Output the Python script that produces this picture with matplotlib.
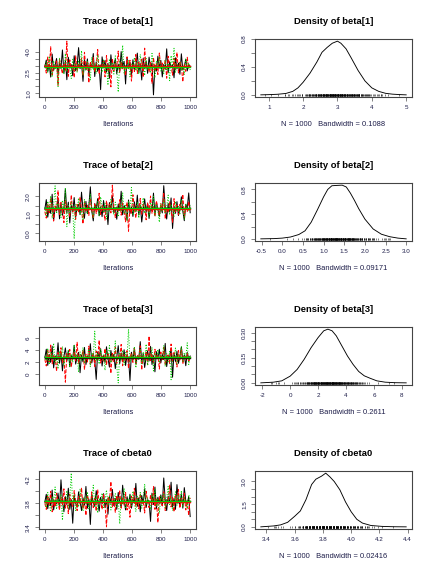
import matplotlib
matplotlib.use("Agg")
import matplotlib.pyplot as plt
import numpy as np

plt.rcParams['font.family'] = ['Liberation Sans', 'DejaVu Sans']

# ---------------- trace values (thinned) ----------------
beta1_c1 = [2.93, 3.41, 2.58, 3.12, 2.17, 3.84, 2.66, 3.04, 3.52, 2.39, 3.23, 2.81, 4.14, 2.47, 3.36, 1.98, 3.61, 2.89, 3.08, 2.27,
            3.72, 2.63, 2.97, 4.31, 2.78, 3.19, 1.86, 3.44, 2.71, 3.49, 2.36, 3.13, 2.92, 3.88, 2.21, 3.27, 2.59, 3.02, 1.26, 3.64,
            2.84, 3.38, 2.53, 3.17, 2.08, 3.79, 2.74, 3.06, 3.47, 2.42, 3.11, 2.56, 4.02, 2.94, 3.31, 1.67, 3.58, 2.83, 3.24, 2.29,
            3.43, 2.68, 2.99, 3.91, 2.51, 3.14, 1.96, 3.54, 2.79, 3.33, 2.44, 3.62, 2.87, 3.21, 0.88, 3.01, 2.61, 3.69, 2.82, 3.39,
            2.18, 3.09, 2.73, 4.22, 2.48, 3.28, 2.91, 3.03, 2.12, 3.57, 2.77, 3.18, 2.37, 3.86, 2.69, 2.96, 3.46, 2.62, 3.07, 2.88]
beta1_c2 = [3.07, 2.46, 3.63, 2.79, 4.38, 2.32, 2.98, 2.72, 3.34, 1.57, 3.48, 2.86, 2.41, 3.16, 2.67, 4.78, 2.23, 3.42, 2.81, 3.03,
            2.14, 3.71, 2.58, 3.12, 2.91, 3.53, 2.27, 3.97, 2.69, 3.22, 1.76, 3.29, 2.84, 3.59, 2.52, 3.01, 4.17, 2.38, 3.09, 2.93,
            3.37, 2.19, 3.74, 2.66, 3.04, 1.46, 3.51, 2.61, 3.18, 2.88, 4.06, 2.49, 3.32, 2.77, 2.99, 2.26, 3.64, 2.73, 3.39, 1.88,
            3.13, 2.57, 3.81, 2.43, 3.24, 2.92, 3.47, 2.16, 4.27, 2.83, 3.02, 2.54, 3.28, 1.72, 3.58, 2.68, 3.14, 2.36, 3.92, 2.87,
            3.19, 2.62, 3.43, 2.09, 3.68, 2.78, 2.97, 2.31, 3.54, 2.71, 3.96, 2.47, 3.33, 2.94, 1.83, 3.08, 2.59, 3.61, 2.82, 3.01]
beta1_c3 = [2.84, 3.27, 2.49, 3.68, 2.91, 2.18, 3.36, 2.74, 3.08, 1.48, 3.57, 2.79, 3.03, 2.37, 3.87, 2.63, 3.19, 2.88, 2.07, 3.46,
            2.72, 3.11, 2.53, 3.38, 2.81, 4.09, 2.28, 2.98, 2.61, 3.31, 2.93, 1.97, 3.62, 2.68, 3.17, 2.42, 3.78, 2.83, 3.04, 2.51,
            3.41, 2.57, 3.13, 1.58, 3.49, 2.86, 3.22, 2.39, 3.71, 2.67, 1.08, 3.29, 2.78, 4.48, 2.46, 2.99, 2.73, 3.37, 2.19, 3.12,
            2.92, 3.59, 2.62, 3.23, 2.38, 3.82, 2.76, 3.01, 2.29, 3.52, 2.69, 3.09, 2.48, 3.89, 2.87, 2.11, 3.34, 2.82, 3.63, 2.58,
            2.96, 2.43, 3.42, 2.71, 3.18, 1.91, 3.73, 2.89, 4.26, 2.52, 3.07, 2.79, 3.28, 2.64, 3.02, 2.36, 3.48, 2.94, 3.21, 2.68]

beta2_c1 = [1.31, 1.83, 0.88, 1.47, 1.09, 2.12, 0.71, 1.38, 1.22, 1.91, 0.79, 1.63, 0.98, 1.34, 2.41, 1.12, 1.69, 0.57, 1.52, 1.18,
            1.94, 0.87, 1.42, 1.58, 1.03, 2.23, 1.27, 0.82, 1.73, 1.07, 1.49, 2.52, 1.21, 0.68, 1.61, 1.33, 1.88, 0.96, 1.44, 0.91,
            1.78, 1.16, 1.54, 0.48, 1.67, 1.29, 2.03, 1.13, 1.39, 0.77, 1.59, 1.24, 2.28, 1.01, 1.51, 1.32, 0.73, 1.81, 1.08, 1.43,
            0.92, 1.71, 1.19, 2.07, 0.99, 1.53, 0.62, 1.28, 1.87, 1.14, 1.64, 0.81, 1.37, 1.23, 2.18, 1.04, 1.68, 1.31, 0.93, 1.48,
            1.11, 2.58, 1.41, 0.78, 1.62, 1.17, 1.92, 0.27, 1.46, 1.09, 1.72, 0.97, 1.33, 1.98, 1.21, 0.69, 1.57, 1.36, 2.19, 1.12]
beta2_c2 = [1.18, 0.83, 1.61, 1.07, 1.93, 1.38, 0.67, 1.49, 1.27, 2.31, 1.02, 1.68, 1.23, 0.59, 1.79, 1.34, 1.47, 0.89, 2.08, 1.16,
            1.41, 0.76, 1.57, 1.13, 1.97, 1.29, 0.52, 1.72, 1.19, 1.53, 0.98, 1.86, 1.32, 0.81, 1.63, 1.08, 1.39, 2.17, 1.03, 1.51,
            1.21, 0.72, 1.77, 1.28, 1.59, 1.11, 2.61, 1.43, 0.86, 1.48, 1.17, 1.82, 0.99, 1.64, 1.26, 0.63, 1.69, 0.12, 1.37, 1.06,
            2.09, 1.31, 0.84, 1.52, 1.22, 1.89, 1.04, 1.58, 1.42, 0.74, 1.67, 1.18, 2.02, 1.09, 1.46, 0.91, 1.76, 1.33, 0.97, 1.62,
            1.24, 2.21, 0.79, 1.41, 1.13, 1.71, 1.29, 0.58, 1.88, 1.16, 1.54, 1.01, 1.57, 1.34, 2.11, 0.88, 1.44, 1.19, 1.73, 1.27]
beta2_c3 = [1.42, 0.97, 1.74, 1.18, 2.03, 0.82, 1.51, 2.57, 1.08, 1.63, 1.27, 0.86, 1.79, 1.21, 2.46, 0.37, 1.53, 1.12, 1.68, 1.32,
            -0.29, 1.58, 1.19, 1.91, 1.02, 1.39, 0.71, 1.83, 1.28, 1.06, 1.61, 2.12, 1.23, 0.88, 1.47, 1.34, 1.72, 0.96, 1.98, 1.41,
            1.13, 1.64, 0.78, 1.49, 1.17, 1.87, 1.31, 1.02, 1.69, 1.37, 0.91, 1.59, 1.22, 2.19, 1.07, 1.52, 0.68, 1.76, 1.29, 2.48,
            0.99, 1.43, 1.16, 1.71, 0.83, 1.56, 1.33, 1.93, 1.09, 1.48, 1.38, 0.87, 1.67, 1.24, 2.01, 0.98, 1.54, 1.26, 0.61, 1.62,
            1.19, 1.81, 1.11, 1.44, 2.07, 1.01, 1.58, 1.32, 0.93, 1.73, 1.18, 1.49, 1.06, 1.84, 1.29, 0.77, 1.61, 1.39, 1.21, 1.52]

beta3_c1 = [2.71, 4.13, 1.48, 3.27, 1.96, 4.62, 1.07, 3.04, 2.38, 5.18, 1.83, 3.47, 0.58, 2.91, 4.34, 2.17, 3.82, 1.26, 3.09, 2.53,
            4.77, 1.69, 2.84, 3.61, 0.27, 3.18, 2.06, 4.42, 1.62, 2.97, 2.58, 5.03, 1.87, 3.41, 2.29, -0.83, 3.68, 2.79, 4.21, 1.37,
            3.12, 1.98, 4.53, 2.63, 1.19, 3.92, 2.36, 3.28, 0.94, 2.87, 4.71, 1.77, 3.52, 2.23, 4.04, 1.46, 3.21, 2.69, -1.02, 3.63,
            2.31, 4.38, 1.72, 2.98, 2.47, 5.37, 2.02, 3.39, 1.13, 2.82, 3.87, 2.19, 4.58, 1.61, 3.07, 0.42, 3.73, 2.57, 4.12, 1.88,
            3.31, 2.43, 5.08, 1.28, 3.02, 2.72, 4.27, -0.47, 3.49, 2.11, 3.79, 1.81, 2.93, 4.49, 2.28, 3.17, 1.42, 3.59, 2.62, 3.01]
beta3_c2 = [2.48, 1.38, 3.91, 2.08, 4.81, 1.73, 3.16, 2.83, 0.51, 3.57, 2.32, 4.37, 1.92, 2.99, -1.28, 3.43, 2.61, 4.08, 1.17, 2.88,
            3.72, 2.21, 5.27, 1.79, 3.11, 2.52, 3.98, 0.77, 3.29, 2.03, 4.63, 1.58, 2.68, 3.51, 1.31, 3.83, 2.39, 5.61, 1.86, 3.03,
            2.18, 4.23, 1.52, 3.38, 2.77, 0.16, 3.62, 2.09, 4.47, 1.82, 3.13, 2.58, 4.91, 1.41, 3.26, 2.34, 3.89, 0.98, 2.81, 3.48,
            1.97, 4.29, 1.68, 3.19, 2.51, 4.68, 0.72, 3.01, 2.42, 3.78, 1.57, 6.28, 2.24, 3.37, 1.89, 4.11, 2.59, 3.08, 0.87, 3.66,
            2.27, 4.41, 1.53, 2.92, 3.33, 1.78, 4.97, 2.14, 3.58, 2.67, 1.22, 3.93, 2.37, 4.18, 1.71, 2.96, 2.49, 3.46, 2.01, 2.78]
beta3_c3 = [2.97, 2.23, 4.28, 1.63, 3.52, 2.66, 5.12, 1.87, 3.23, 0.91, 3.81, 2.37, 4.57, 1.49, 3.08, 2.82, 3.96, 1.18, 3.36, 1.99,
            4.86, 2.57, 3.32, 0.38, 3.69, 2.26, 4.43, 1.81, 3.02, 2.47, 4.17, 1.27, 3.58, 2.89, 7.08, 2.12, 3.47, 1.68, 4.09, 2.63,
            3.18, 0.67, 3.88, 2.41, 4.73, 1.93, 3.06, 2.78, 5.48, 1.36, -1.39, 3.42, 2.28, 3.97, 1.59, 3.61, 2.73, 7.42, 1.98, 3.27,
            2.53, 4.52, 1.09, 2.99, 2.64, 4.16, 1.76, 3.71, 2.18, 4.96, 1.47, 3.22, 2.87, 4.38, 0.57, 3.53, 2.39, 4.07, 1.91, 3.12,
            2.68, 4.78, 1.32, 3.39, 2.07, 3.84, -0.88, 3.03, 2.61, 4.32, 1.73, 3.28, 2.44, 4.61, 2.02, 3.57, 2.76, 5.17, 1.62, 3.09]

cbeta0_c1 = [3.82, 3.95, 3.71, 3.88, 3.76, 4.02, 3.69, 3.85, 3.79, 3.97, 3.73, 4.19, 3.84, 3.66, 3.91, 3.78, 4.05, 3.70, 3.86, 3.47,
             3.93, 3.80, 3.74, 3.99, 3.83, 3.68, 3.89, 3.77, 4.08, 3.72, 3.87, 3.45, 3.94, 3.81, 3.75, 4.01, 3.84, 3.67, 3.90, 3.79,
             3.96, 3.73, 3.86, 3.62, 3.92, 3.80, 4.03, 3.76, 3.88, 3.70, 3.98, 3.82, 3.74, 4.10, 3.85, 3.69, 3.91, 3.78, 3.95, 3.72,
             3.87, 3.81, 4.13, 3.75, 3.89, 3.66, 3.93, 3.79, 4.04, 3.73, 3.86, 3.83, 3.50, 3.97, 3.78, 4.07, 3.71, 3.90, 3.80, 3.94,
             3.76, 4.22, 3.85, 3.68, 3.92, 3.81, 4.15, 3.74, 3.88, 3.70, 4.11, 3.83, 3.77, 3.96, 3.72, 4.06, 3.84, 3.79, 3.91, 3.58]
cbeta0_c2 = [3.80, 3.70, 3.93, 3.77, 4.00, 3.66, 3.86, 3.74, 3.97, 3.82, 3.69, 3.90, 3.78, 4.04, 3.72, 3.87, 3.63, 3.95, 3.81, 3.75,
             4.01, 3.84, 3.68, 3.92, 3.79, 4.06, 3.71, 3.88, 3.60, 3.94, 3.83, 3.76, 3.99, 3.73, 3.89, 3.67, 4.03, 3.80, 3.85, 3.70,
             3.96, 3.78, 3.41, 3.91, 3.82, 4.16, 3.74, 3.87, 3.65, 3.93, 3.80, 4.02, 3.72, 3.89, 3.77, 3.98, 3.69, 3.84, 3.57, 3.92,
             3.81, 4.05, 3.75, 3.88, 3.71, 3.96, 3.79, 3.85, 3.64, 4.00, 3.83, 3.73, 3.94, 3.78, 4.08, 3.70, 3.87, 3.48, 3.91, 3.82,
             3.76, 3.99, 3.68, 3.86, 3.80, 4.11, 3.74, 3.90, 3.66, 3.95, 3.81, 4.03, 3.72, 3.88, 3.77, 3.97, 3.69, 3.84, 3.60, 3.89]
cbeta0_c3 = [3.84, 3.73, 3.98, 3.79, 3.66, 3.92, 3.81, 4.07, 3.70, 3.88, 3.76, 3.95, 3.52, 3.86, 3.80, 4.01, 3.72, 3.90, 4.30, 3.78,
             3.94, 3.68, 3.85, 3.74, 4.04, 3.82, 3.67, 3.91, 3.79, 3.99, 3.71, 3.87, 3.83, 4.10, 3.75, 3.93, 3.64, 3.89, 3.80, 3.97,
             3.73, 3.86, 4.02, 3.77, 3.92, 3.69, 3.84, 3.81, 3.96, 3.74, 3.88, 3.46, 3.90, 3.78, 4.05, 3.71, 3.87, 3.83, 3.94, 3.76,
             4.00, 3.80, 3.66, 3.91, 3.79, 3.98, 3.72, 3.86, 4.12, 3.77, 3.89, 3.82, 3.70, 3.95, 3.84, 4.03, 3.75, 3.88, 3.63, 3.92,
             3.80, 3.97, 3.73, 3.87, 4.08, 3.78, 3.90, 3.68, 3.85, 3.99, 3.76, 3.93, 3.81, 4.01, 3.74, 3.89, 3.83, 3.71, 3.94, 3.86]

# ---------------- density curves ----------------
dens1_x = [0.77, 1.0, 1.25, 1.5, 1.7, 1.85, 2.0, 2.2, 2.4, 2.55, 2.7, 2.85, 3.0, 3.1, 3.25, 3.4, 3.6, 3.8, 4.0, 4.2, 4.4, 4.6, 4.8, 5.0]
dens1_y = [0.0, 0.003, 0.008, 0.02, 0.05, 0.1, 0.18, 0.31, 0.47, 0.61, 0.68, 0.74, 0.77, 0.74, 0.66, 0.53, 0.35, 0.2, 0.1, 0.05, 0.022, 0.01, 0.004, 0.0]

dens2_x = [-0.52, -0.2, 0.0, 0.2, 0.4, 0.55, 0.7, 0.85, 1.0, 1.1, 1.2, 1.3, 1.45, 1.55, 1.65, 1.75, 1.85, 2.0, 2.2, 2.4, 2.6, 2.8, 3.0]
dens2_y = [0.0, 0.004, 0.012, 0.03, 0.07, 0.13, 0.27, 0.47, 0.68, 0.8, 0.86, 0.865, 0.87, 0.84, 0.74, 0.62, 0.49, 0.32, 0.16, 0.075, 0.035, 0.012, 0.0]

dens3_x = [-2.1, -1.2, -0.6, 0.0, 0.5, 1.0, 1.5, 2.0, 2.4, 2.7, 3.0, 3.3, 3.7, 4.1, 4.5, 4.9, 5.3, 5.7, 6.2, 6.8, 7.5, 8.3]
dens3_y = [0.0, 0.004, 0.012, 0.04, 0.08, 0.14, 0.21, 0.27, 0.31, 0.32, 0.31, 0.28, 0.22, 0.16, 0.11, 0.068, 0.042, 0.028, 0.012, 0.004, 0.001, 0.0]

dens4_x = [3.36, 3.45, 3.5, 3.55, 3.6, 3.64, 3.68, 3.72, 3.75, 3.79, 3.82, 3.85, 3.88, 3.92, 3.96, 4.0, 4.04, 4.08, 4.14, 4.22, 4.3, 4.39]
dens4_y = [0.0, 0.06, 0.13, 0.3, 0.7, 1.05, 1.8, 2.8, 3.15, 3.35, 3.55, 3.3, 3.0, 2.45, 1.65, 1.0, 0.5, 0.25, 0.09, 0.03, 0.008, 0.0]

names = ['beta[1]', 'beta[2]', 'beta[3]', 'cbeta0']
bandwidths = ['0.1088', '0.09171', '0.2611', '0.02416']

traces = [[beta1_c1, beta1_c2, beta1_c3],
          [beta2_c1, beta2_c2, beta2_c3],
          [beta3_c1, beta3_c2, beta3_c3],
          [cbeta0_c1, cbeta0_c2, cbeta0_c3]]
dens_x = [dens1_x, dens2_x, dens3_x, dens4_x]
dens_y = [dens1_y, dens2_y, dens3_y, dens4_y]

trace_yticks = [[1.0, 1.5, 2.0, 2.5, 3.0, 3.5, 4.0], [0.0, 0.5, 1.0, 1.5, 2.0], [0, 2, 4, 6], [3.4, 3.6, 3.8, 4.0, 4.2]]
trace_ylabels = [['1.0', '', '', '2.5', '', '', '4.0'], ['0.0', '', '1.0', '', '2.0'], ['0', '2', '4', '6'],
                 ['3.4', '', '3.8', '', '4.2']]
dens_xticks = [[1, 2, 3, 4, 5], [-0.5, 0.0, 0.5, 1.0, 1.5, 2.0, 2.5, 3.0], [-2, 0, 2, 4, 6, 8],
               [3.4, 3.6, 3.8, 4.0, 4.2, 4.4]]
dens_xlabels = [['1', '2', '3', '4', '5'], ['-0.5', '0.0', '0.5', '1.0', '1.5', '2.0', '2.5', '3.0'],
                ['-2', '0', '2', '4', '6', '8'], ['3.4', '3.6', '3.8', '4.0', '4.2', '4.4']]
dens_yticks = [[0.0, 0.2, 0.4, 0.6, 0.8], [0.0, 0.2, 0.4, 0.6, 0.8],
               [0.0, 0.05, 0.10, 0.15, 0.20, 0.25, 0.30], [0.0, 0.5, 1.0, 1.5, 2.0, 2.5, 3.0]]
dens_ylabels = [['0.0', '', '0.4', '', '0.8'], ['0.0', '', '0.4', '', '0.8'],
                ['0.00', '', '', '0.15', '', '', '0.30'], ['0.0', '', '', '1.5', '', '', '3.0']]

chain_cols = ['black', '#ff0000', '#00cd00']
chain_ls = ['-', '--', ':']
lab_col = '#1c1c48'

fig = plt.figure(figsize=(6, 8), dpi=72)


def style_axes(ax):
    for s in ax.spines.values():
        s.set_color('#444444')
        s.set_linewidth(1.1)
    ax.tick_params(direction='out', length=4, width=0.6, labelsize=6.2, colors='#333333',
                   labelcolor=lab_col, pad=4)
    for t in ax.get_yticklabels():
        t.set_rotation(90)
        t.set_va('center')


for i in range(4):
    bottom = 1 - (97 + 144 * i) / 576
    h = 58 / 576

    # trace panel
    ax = fig.add_axes([39 / 432, bottom, 157 / 432, h])
    iters = np.linspace(1, 1000, len(traces[i][0]))
    for c in range(3):
        ax.plot(iters, traces[i][c], color=chain_cols[c], ls=chain_ls[c], lw=1.0)
    for c in range(3):
        m = np.mean(traces[i][c])
        ax.plot([1, 1000], [m, m], color=chain_cols[c], lw=1.3)
    ax.set_xlim(-39, 1040)
    allv = np.concatenate(traces[i])
    pad = 0.04 * (allv.max() - allv.min())
    ax.set_ylim(allv.min() - pad, allv.max() + pad)
    ax.set_xticks([0, 200, 400, 600, 800, 1000])
    ax.set_yticks(trace_yticks[i])
    ax.set_yticklabels(trace_ylabels[i])
    ax.set_title('Trace of ' + names[i], fontsize=9.4, fontweight='bold', pad=15)
    ax.set_xlabel('Iterations', fontsize=7.5, color=lab_col, labelpad=11)
    style_axes(ax)

    # density panel
    ax = fig.add_axes([255 / 432, bottom, 157 / 432, h])
    ax.plot(dens_x[i], dens_y[i], color='black', lw=0.9)
    ax.plot(allv, np.zeros(len(allv)), '|', color='black', ms=2.5, mew=0.5)
    xr = max(dens_x[i]) - min(dens_x[i])
    ax.set_xlim(min(dens_x[i]) - 0.04 * xr, max(dens_x[i]) + 0.04 * xr)
    ymax = max(dens_y[i])
    ax.set_ylim(-0.04 * ymax, 1.04 * ymax)
    ax.set_xticks(dens_xticks[i])
    ax.set_xticklabels(dens_xlabels[i])
    ax.set_yticks(dens_yticks[i])
    ax.set_yticklabels(dens_ylabels[i])
    ax.set_title('Density of ' + names[i], fontsize=9.4, fontweight='bold', pad=15)
    ax.set_xlabel('N = 1000   Bandwidth = ' + bandwidths[i], fontsize=7.5, color=lab_col, labelpad=11)
    style_axes(ax)

fig.savefig('out.png', dpi=72)
